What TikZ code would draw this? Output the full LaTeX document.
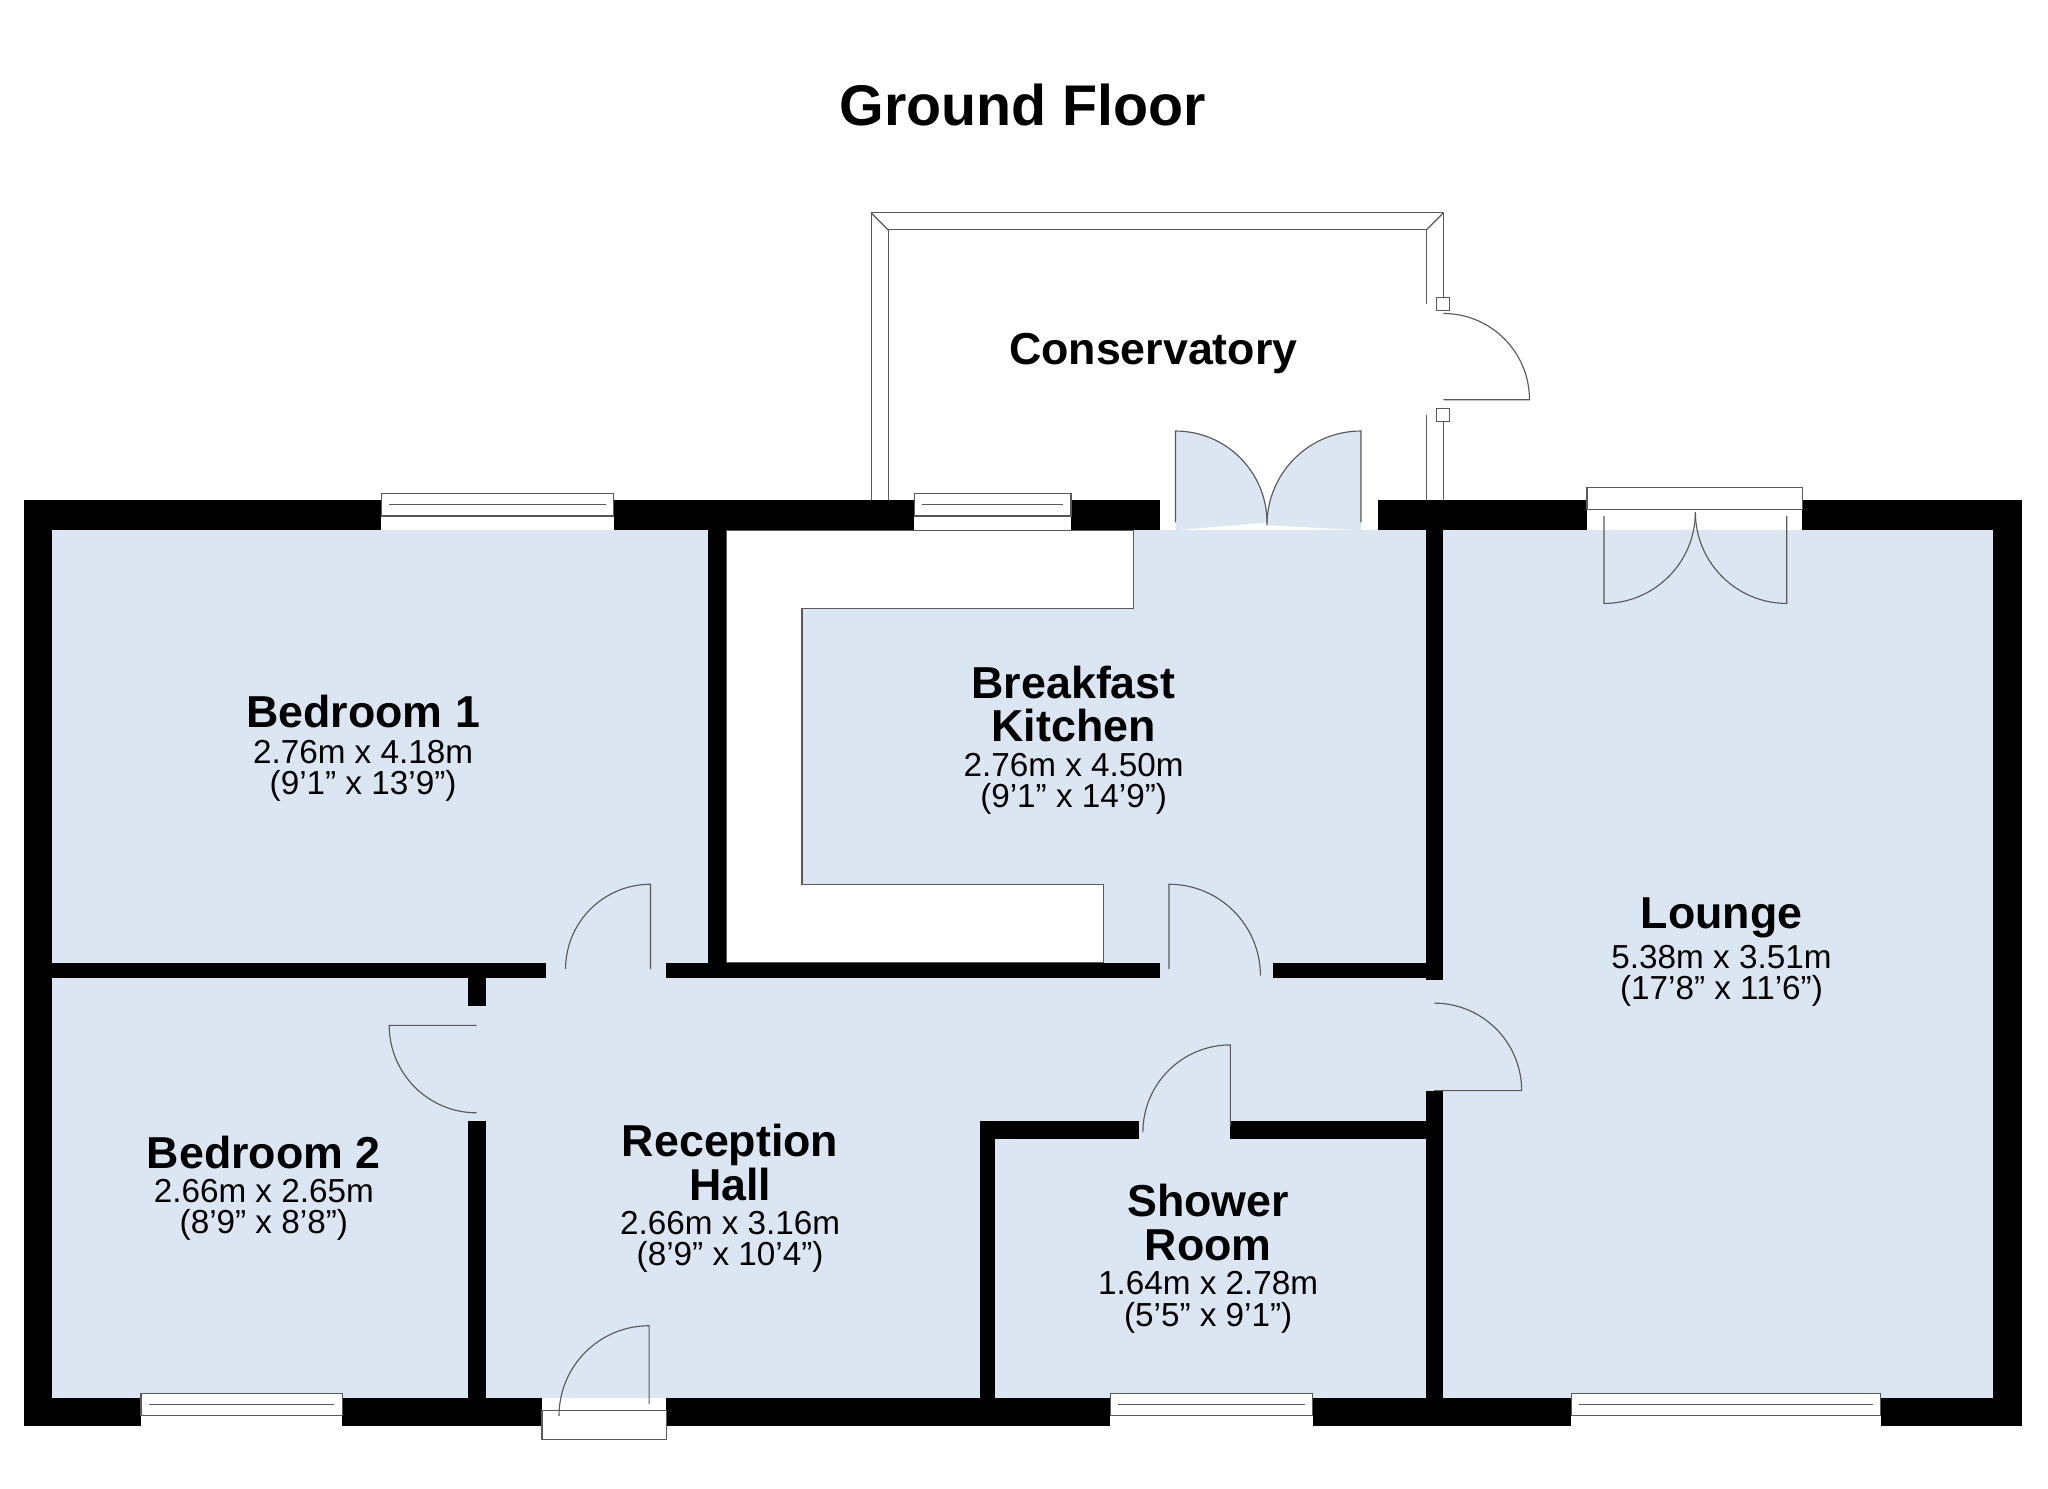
\documentclass[tikz,border=0pt]{standalone}
\usepackage{fontspec}
\setmainfont{Liberation Sans}
\begin{document}
\begin{tikzpicture}[x=0.02cm,y=-0.02cm,
  wall/.style={fill=black},
  room/.style={fill=roomblue},
  thin/.style={draw=gray!70!black,line width=0.5pt},
  win/.style={fill=white,draw=gray!70!black,line width=0.5pt},
  rname/.style={font=\bfseries\fontsize{19.5}{19}\selectfont,align=center,inner sep=0pt},
  dim/.style={font=\fontsize{14.5}{13.6}\selectfont,align=center,inner sep=0pt}]
\definecolor{roomblue}{HTML}{DCE6F2}
\useasboundingbox (0,0) rectangle (1568,1140);
\fill[white] (0,0) rectangle (1568,1140);
% conservatory
\draw[thin] (667,383) -- (667,163) -- (1105,163) -- (1105,233);
\draw[thin] (1105,318) -- (1105,383);
\draw[thin] (680,383) -- (680,176) -- (1092,176) -- (1092,233);
\draw[thin] (1092,318) -- (1092,383);
\draw[thin] (667,163) -- (680,176) (1105,163) -- (1092,176);
\draw[thin,fill=white] (1100,228) rectangle (1110,238);
\draw[thin,fill=white] (1100,313) rectangle (1110,323);
\draw[thin] (1105,240) arc[start angle=-90,end angle=0,radius=66] -- (1105,306);
\node[rname] (cons) at (883,271) {Conservatory};
% rooms
\fill[room] (40,406) rectangle (1526,1070);
\fill[roomblue] (900,406) -- (900,330) arc[start angle=-90,end angle=0,radius=70] -- cycle;
\fill[roomblue] (1042,406) -- (1042,330) arc[start angle=-90,end angle=-180,radius=72] -- cycle;
% kitchen counter
\draw[thin,fill=white] (556,406) -- (868,406) -- (868,466) -- (614,466) -- (614,677) -- (845,677) -- (845,737) -- (556,737) -- cycle;
% outer walls
\fill[wall] (18,383) rectangle (292,406);
\fill[wall] (470,383) rectangle (700,406);
\fill[wall] (820,383) rectangle (888,406);
\fill[wall] (1055,383) rectangle (1215,406);
\fill[wall] (1380,383) rectangle (1548,406);
\fill[wall] (18,383) rectangle (40,1092);
\fill[wall] (1526,383) rectangle (1548,1092);
\fill[wall] (18,1070) rectangle (108,1092);
\fill[wall] (262,1070) rectangle (415,1092);
\fill[wall] (510,1070) rectangle (850,1092);
\fill[wall] (1005,1070) rectangle (1203,1092);
\fill[wall] (1440,1070) rectangle (1548,1092);
% inner walls
\fill[wall] (40,737) rectangle (418,749);
\fill[wall] (510,737) rectangle (888,749);
\fill[wall] (975,737) rectangle (1105,749);
\fill[wall] (542,406) rectangle (556,749);
\fill[wall] (1092,406) rectangle (1105,750);
\fill[wall] (1092,835) rectangle (1105,1070);
\fill[wall] (358,749) rectangle (372,770);
\fill[wall] (358,858) rectangle (372,1070);
\fill[wall] (750,858) rectangle (872,872);
\fill[wall] (942,858) rectangle (1092,872);
\fill[wall] (750,858) rectangle (762,1070);
% windows
\foreach \a/\b/\y in {292/470/378,700/820/378,108/262/1067,850/1005/1067,1203/1440/1067}{
  \draw[win] (\a,\y) rectangle (\b,\y+17);
  \draw[thin] (\a+6,\y+8.5) -- (\b-6,\y+8.5);}
\draw[win] (1215,373) rectangle (1380,390);
\draw[win] (415,1080) rectangle (510,1102);
% doors
\draw[thin] (900,400) -- (900,330) arc[start angle=-90,end angle=0,radius=70];
\draw[thin] (1042,400) -- (1042,330) arc[start angle=-90,end angle=-180,radius=72];
\draw[thin] (1228,395) -- (1228,462) arc[start angle=90,end angle=0,radius=70];
\draw[thin] (1368,395) -- (1368,462) arc[start angle=90,end angle=180,radius=70];
\draw[thin] (498,742) -- (498,677) arc[start angle=-90,end angle=-180,radius=65];
\draw[thin] (895,742) -- (895,677) arc[start angle=-90,end angle=0,radius=70];
\draw[thin] (365,785) -- (298,785) arc[start angle=180,end angle=90,radius=67];
\draw[thin] (497,1075) -- (497,1015) arc[start angle=-90,end angle=-180,radius=69];
\draw[thin] (942,862) -- (942,800) arc[start angle=-90,end angle=-180,radius=67];
\draw[thin] (1098,835) -- (1165,835) arc[start angle=0,end angle=-90,radius=67];
% labels
\node[font=\bfseries\fontsize{25}{26}\selectfont] (title) at (783,80) {Ground Floor};
\node[rname] (b1) at (278,545) {Bedroom 1};
\node[dim] (b1d) at (278,590) {2.76m x 4.18m\\(9'1" x 13'9")};
\node[rname] (bk) at (822,539) {Breakfast\\Kitchen};
\node[dim] (bkd) at (822,600) {2.76m x 4.50m\\(9'1" x 14'9")};
\node[rname] (lo) at (1318,703) {Lounge};
\node[dim] (lod) at (1318,747) {5.38m x 3.51m\\(17'8" x 11'6")};
\node[rname] (b2) at (202,882) {Bedroom 2};
\node[dim] (b2d) at (202,926) {2.66m x 2.65m\\(8'9" x 8'8")};
\node[rname] (rh) at (559,890) {Reception\\Hall};
\node[dim] (rhd) at (559,951) {2.66m x 3.16m\\(8'9" x 10'4")};
\node[rname] (sr) at (925,936) {Shower\\Room};
\node[dim] (srd) at (925,997) {1.64m x 2.78m\\(5'5" x 9'1")};
\end{tikzpicture}
\end{document}
